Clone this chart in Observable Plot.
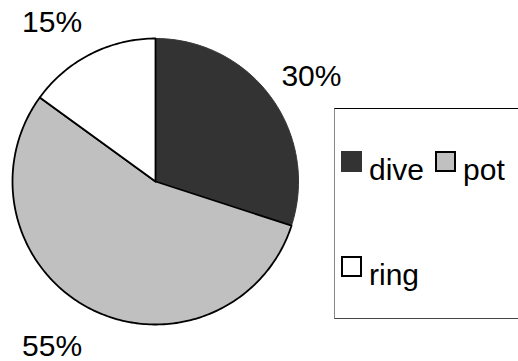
<!DOCTYPE html>
<html>
<head>
<meta charset="utf-8">
<script src="https://cdn.jsdelivr.net/npm/d3@7"></script>
<script src="https://cdn.jsdelivr.net/npm/@observablehq/plot@0.6"></script>
<style>
  html, body { margin: 0; padding: 0; background: #fff; }
  #chart { position: relative; width: 518px; height: 361px; overflow: hidden; background: #fff;
           font-family: "Liberation Sans", Arial, sans-serif; }
  #chart svg { position: absolute; left: 0; top: 0; }
  .legend { position: absolute; left: 334px; top: 108px; width: 220px; height: 209px;
            border: 1px solid #000; border-left-color: #888; border-bottom-color: #444; background: #fff; }
  .legend .items { position: absolute; left: 6px; top: 42px; width: 180px;
                   display: flex; flex-wrap: wrap; column-gap: 11px; row-gap: 84px; }
  .legend .item { display: flex; align-items: flex-start; height: 21px; }
  .legend .swatch { width: 21px; height: 21px; box-sizing: border-box; border: 2px solid #000; }
  .legend .label { margin-left: 7px; font-size: 30px; line-height: 21px; position: relative; top: 8px; color: #000; }
</style>
</head>
<body>
<div id="chart"></div>
<script>
// Share of each category (percent)
const categories = ["dive", "pot", "ring"];
const values = [30, 55, 15];
const colors = ["#333333", "#c0c0c0", "#ffffff"];
const outline = ["#333333", "#000000", "#000000"];

const total = d3.sum(values);
const arcs = d3.pie().sort(null).value(d => d.value)(
  categories.map((name, i) => ({name, value: values[i], fill: colors[i], stroke: outline[i]}))
);

// Slice outlines: centre -> sampled arc -> centre, in unit-radius coordinates
const slicePoints = arcs.flatMap(a => {
  const n = Math.max(2, Math.ceil((a.endAngle - a.startAngle) / (2 * Math.PI) * 360));
  const pts = [{name: a.data.name, fill: a.data.fill, stroke: a.data.stroke, x: 0, y: 0}];
  for (let k = 0; k <= n; ++k) {
    const t = a.startAngle + (a.endAngle - a.startAngle) * k / n;
    pts.push({name: a.data.name, fill: a.data.fill, stroke: a.data.stroke, x: Math.sin(t), y: Math.cos(t)});
  }
  pts.push({name: a.data.name, fill: a.data.fill, stroke: a.data.stroke, x: 0, y: 0});
  return pts;
});

// Percent labels placed outside each slice along its mid-angle
const labelRadius = 1.27;
const labels = arcs.map(a => {
  const mid = (a.startAngle + a.endAngle) / 2;
  return {
    x: Math.sin(mid) * labelRadius,
    y: Math.cos(mid) * labelRadius,
    text: Math.round(a.data.value / total * 100) + "%",
    left: Math.sin(mid) < 0
  };
});

const chart = Plot.plot({
  width: 518,
  height: 361,
  margin: 0,
  style: {background: "transparent", fontFamily: "'Liberation Sans', Arial, sans-serif"},
  x: {domain: [-1, 1], range: [12, 298], axis: null},
  y: {domain: [-1, 1], range: [324, 38], axis: null},
  marks: [
    Plot.line(slicePoints.filter(d => d.name === categories[0]), {
      x: "x", y: "y", z: "name", fill: "fill", stroke: "stroke", strokeWidth: 1, curve: "linear"
    }),
    Plot.line(slicePoints.filter(d => d.name !== categories[0]), {
      x: "x", y: "y", z: "name", fill: "fill", stroke: "stroke", strokeWidth: 1.8,
      strokeLinejoin: "round", curve: "linear"
    }),
    Plot.text(labels.filter(d => d.left), {x: "x", y: "y", text: "text", fontSize: 30, fill: "#000", dx: -21, dy: 3}),
    Plot.text(labels.filter(d => !d.left), {x: "x", y: "y", text: "text", fontSize: 30, fill: "#000", dx: 9, dy: 2})
  ]
});

const root = document.getElementById("chart");
root.appendChild(chart);

// Legend box
const legend = document.createElement("div");
legend.className = "legend";
const items = document.createElement("div");
items.className = "items";
categories.forEach((name, i) => {
  const item = document.createElement("div");
  item.className = "item";
  const sw = document.createElement("div");
  sw.className = "swatch";
  sw.style.background = colors[i];
  if (i === 0) sw.style.borderColor = colors[i];
  const lab = document.createElement("span");
  lab.className = "label";
  lab.textContent = name;
  item.appendChild(sw);
  item.appendChild(lab);
  items.appendChild(item);
});
legend.appendChild(items);
root.appendChild(legend);
</script>
</body>
</html>
